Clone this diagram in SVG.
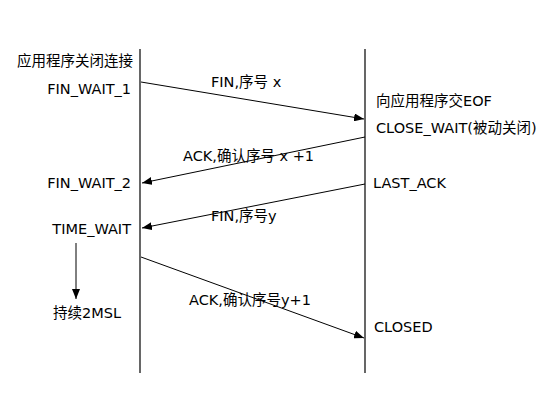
<svg xmlns="http://www.w3.org/2000/svg" width="556" height="413" viewBox="0 0 556 413">
<style>
text{font-family:"DejaVu Sans","Noto Sans CJK SC",sans-serif;font-size:14.5px;fill:#000}
.l{stroke:#000;stroke-width:1.2;fill:none}
.a{stroke:#000;stroke-width:1;fill:none;marker-end:url(#ah)}
</style>
<defs>
<marker id="ah" viewBox="0 0 10 8" refX="10" refY="4" markerWidth="10" markerHeight="8" markerUnits="userSpaceOnUse" orient="auto">
<path d="M0,0 L10,4 L0,8 Z" fill="#000"/>
</marker>
</defs>
<g id="client">
<line class="l" x1="140" y1="49" x2="140" y2="373"/>
<text x="17" y="66">应用程序关闭连接</text>
<text x="131" y="94" text-anchor="end">FIN_WAIT_1</text>
<text x="131" y="188" text-anchor="end">FIN_WAIT_2</text>
<text x="131" y="234" text-anchor="end">TIME_WAIT</text>
<text x="53" y="318">持续2MSL</text>
</g>
<g id="server">
<line class="l" x1="365" y1="49" x2="365" y2="373"/>
<text x="376" y="106">向应用程序交EOF</text>
<text x="376" y="133">CLOSE_WAIT(被动关闭)</text>
<text x="373" y="188">LAST_ACK</text>
<text x="374" y="332">CLOSED</text>
</g>
<g id="connectors">
<line class="a" x1="141" y1="82" x2="364" y2="119"/>
<text x="211" y="87">FIN,序号 x</text>
<line class="a" x1="365" y1="137" x2="142" y2="183"/>
<text x="183" y="161">ACK,确认序号 x +1</text>
<line class="a" x1="365" y1="184" x2="142" y2="228"/>
<text x="211" y="221">FIN,序号y</text>
<line class="a" x1="141" y1="257" x2="364" y2="338"/>
<text x="189" y="305">ACK,确认序号y+1</text>
<line class="a" x1="76" y1="243" x2="76" y2="299"/>
</g>
</svg>
